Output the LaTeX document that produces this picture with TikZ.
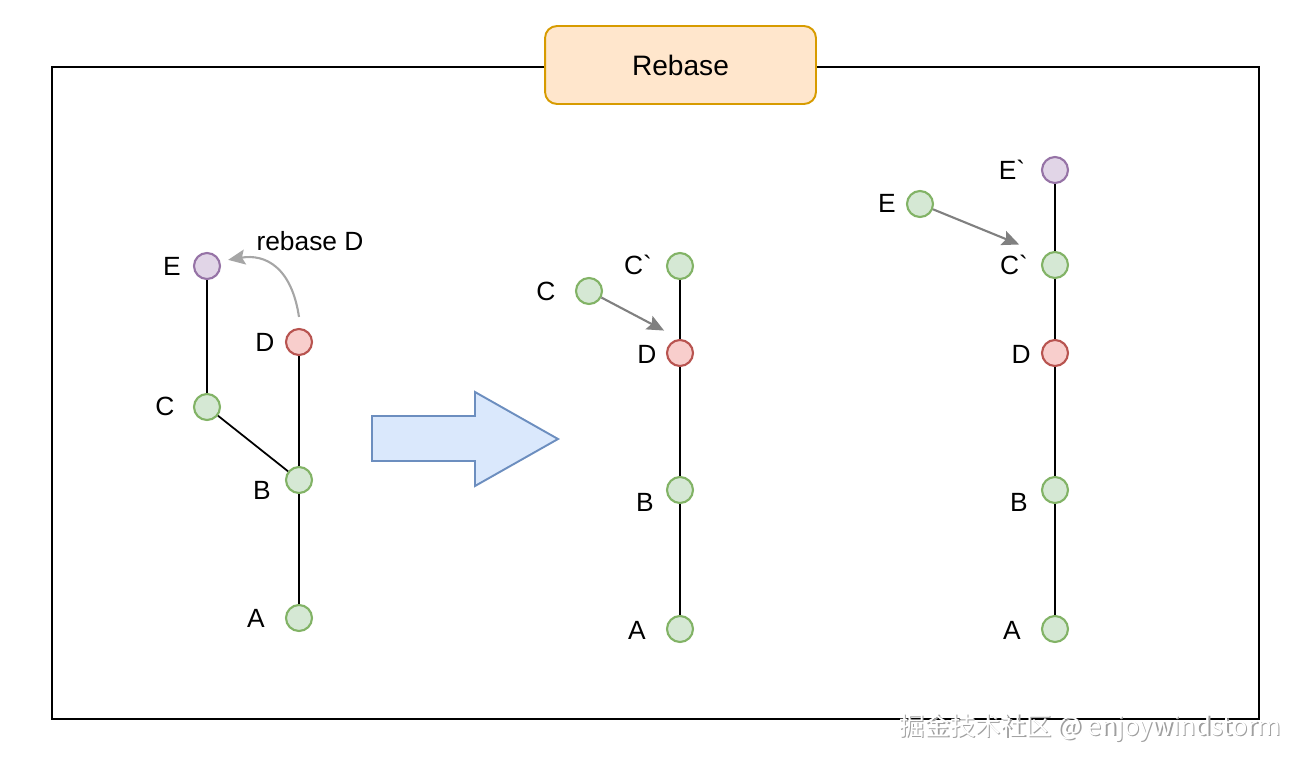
\documentclass[tikz,border=0pt]{standalone}
\usepackage{fontspec}
\setmainfont{Liberation Sans}
\newfontfamily\lblfont{Liberation Sans}
\newfontfamily\cjkfont{Noto Sans CJK SC}
\usetikzlibrary{arrows.meta}

\definecolor{gfill}{HTML}{D5E8D4}
\definecolor{gline}{HTML}{82B366}
\definecolor{rfill}{HTML}{F8CECC}
\definecolor{rline}{HTML}{B85450}
\definecolor{pfill}{HTML}{E1D5E7}
\definecolor{pline}{HTML}{9673A6}
\definecolor{bfill}{HTML}{DAE8FC}
\definecolor{bline}{HTML}{6C8EBF}
\definecolor{ofill}{HTML}{FFE6CC}
\definecolor{oline}{HTML}{D79B00}
\definecolor{movegray}{HTML}{808080}
\definecolor{rbgray}{HTML}{A6A6A6}

\begin{document}
\begin{tikzpicture}[
  x=0.02cm, y=-0.02cm,
  commit/.style={circle, line width=1.2pt, minimum size=0.52cm, inner sep=0pt},
  gcommit/.style={fill=gfill, draw=gline},
  rcommit/.style={fill=rfill, draw=rline},
  pcommit/.style={fill=pfill, draw=pline},
  lbl/.style={font=\lblfont\fontsize{15}{17}\selectfont, inner sep=0pt},
  edge/.style={line width=1pt},
  move/.style={-{Stealth[length=0.34cm, width=0.3cm, inset=0.06cm]}, draw=movegray, line width=1.2pt},
  rbmove/.style={-{Stealth[length=0.34cm, width=0.3cm, inset=0.06cm]}, draw=rbgray, line width=1.2pt},
  titlebox/.style={draw=oline, fill=ofill, line width=1.1pt, rounded corners=0.24cm,
    minimum width=5.42cm, minimum height=1.56cm, font=\lblfont\fontsize{16}{19}\selectfont},
  bigarrow/.style={draw=bline, fill=bfill, line width=1.1pt},
  wmark/.style={font=\cjkfont\fontsize{14.5}{17}\selectfont, inner sep=0pt}
]
\useasboundingbox (0,0) rectangle (1304,764);

% frame and title
\draw[line width=1.3pt] (52,67) rectangle (1259,719);
\node[titlebox] (title) at (680.5,65) {Rebase};

% commits
\foreach \n/\x/\y/\s in {lE/207/266/pcommit, lD/299/342/rcommit, lC/207/407/gcommit,
    lB/299/480/gcommit, lA/299/618/gcommit,
    mCp/680/266/gcommit, mD/680/353/rcommit, mB/680/490/gcommit, mA/680/629/gcommit,
    mC/589/291/gcommit,
    rEp/1055/170/pcommit, rCp/1055/265/gcommit, rD/1055/353/rcommit, rB/1055/490/gcommit,
    rA/1055/629/gcommit, rE/920/204/gcommit}
  \node[commit, \s] (\n) at (\x,\y) {};

% commit names
\foreach \n/\x/\y/\t in {lE/172/266/E, lD/265/342/D, lC/165/406/C, lB/262/490/B, lA/256/618/A,
    mCp/638/265/C`, mD/647/354/D, mB/645/502/B, mA/637/630/A, mC/546/291/C,
    rEp/1012/170/E`, rCp/1014/265/C`, rD/1021/354/D, rB/1019/502/B, rA/1012/630/A, rE/887/203/E}
  \node[lbl] (\n-name) at (\x,\y) {\t};

% history lines
\draw[edge] (lE) -- (lC) -- (lB) -- (lA);
\draw[edge] (lD) -- (lB);
\draw[edge] (mCp) -- (mD) -- (mB) -- (mA);
\draw[edge] (rEp) -- (rCp) -- (rD) -- (rB) -- (rA);

% moves
\node[lbl] (rbtext) at (310,241) {rebase D};
\draw[rbmove, shorten >=0.16cm] ([yshift=0.22cm]lD.north) .. controls +(-0.15cm,1.0cm) and +(0.9cm,0.15cm) .. (lE.20);
\draw[move, shorten >=0.36cm] (mC) -- (mD.north);
\draw[move, shorten >=0.56cm] (rE) -- (rCp.north west);

% big arrow
\draw[bigarrow] (372,416) -- (475,416) -- (475,392) -- (558,439) -- (475,486)
  -- (475,461) -- (372,461) -- cycle;

% watermark
\node[wmark, text=gray!75] (markshadow) at (1091.5,729) {掘金技术社区 @ enjoywindstorm};
\node[wmark, text=white] (markfront) at (1090,727.5) {掘金技术社区 @ enjoywindstorm};
\end{tikzpicture}
\end{document}
